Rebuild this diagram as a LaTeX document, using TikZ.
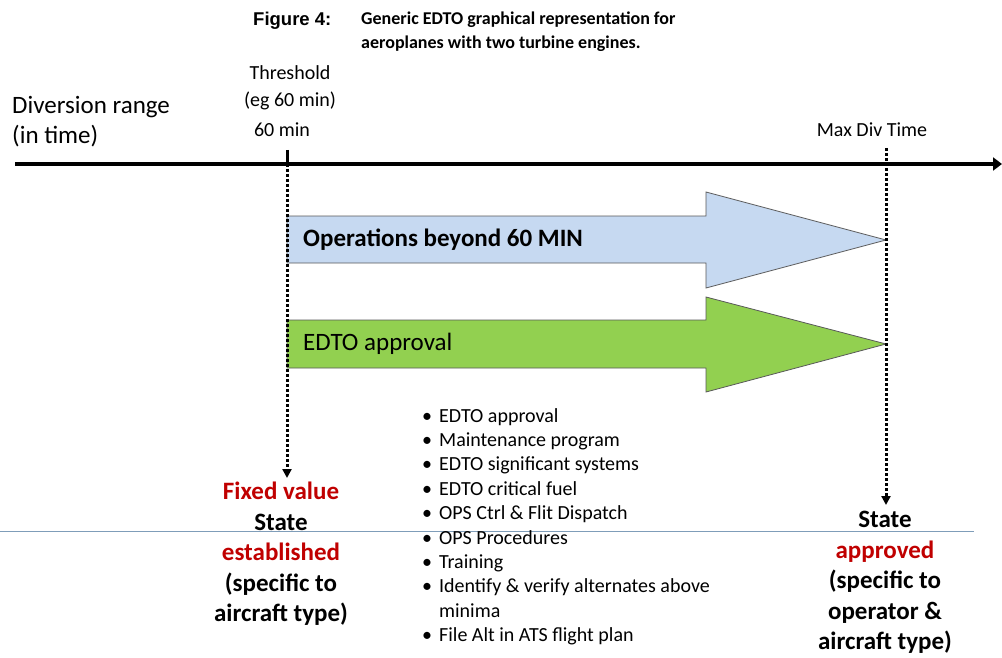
\documentclass[tikz,border=0pt]{standalone}
\usepackage{fontspec}
\setmainfont{Carlito}
\newfontfamily\figfont{Liberation Sans}
\usetikzlibrary{positioning,arrows.meta}

\definecolor{opsblue}{HTML}{C6D9F1}
\definecolor{edtogreen}{HTML}{92D050}
\definecolor{statered}{HTML}{C00000}
\definecolor{splitgray}{HTML}{7F9DB9}

\begin{document}
\begin{tikzpicture}[x=1pt,y=-1pt,shorten >=1pt,
  timeline/.style={line width=4pt,-{Triangle[length=9pt,width=13pt]}},
  limit line/.style={line width=3pt,dash pattern=on 3pt off 2pt,
    -{Triangle[length=9pt,width=9pt]}},
  band/.style={draw=black!65,line width=0.8pt},
  tick label/.style={font=\fontsize{20}{27}\selectfont,inner sep=0pt},
  band text/.style={font=\fontsize{25}{30}\selectfont,anchor=west,inner sep=0pt},
  state text/.style={font=\fontsize{25}{30.5}\selectfont\bfseries,align=center,
    inner sep=0pt,anchor=north},
  item list/.style={font=\fontsize{20}{24.4}\selectfont,align=left,inner sep=0pt,
    anchor=north west}]

  \useasboundingbox (0,0) rectangle (1002,658);

  % caption
  \node[font=\figfont\bfseries\fontsize{18.5}{24}\selectfont,anchor=base west,inner sep=0pt]
    (fig) at (253,26) {Figure 4:};
  \node[font=\bfseries\fontsize{18}{24}\selectfont,align=left,anchor=base west,inner sep=0pt]
    (cap) at (361,49) {Generic EDTO graphical representation for\\
      aeroplanes with two turbine engines.};

  % time axis
  \node[font=\fontsize{25}{30.5}\selectfont,align=left,anchor=north west,inner sep=0pt]
    (range) at (12,96) {Diversion range\\(in time)};
  \coordinate (axisL) at (15,164);
  \coordinate (axisR) at (1002,164);
  \draw[timeline,shorten >=0pt] (axisL) -- (axisR);

  \coordinate (t60) at (287,164);
  \coordinate (t60top) at (287,150);
  \coordinate (tmax) at (886,164);
  \coordinate (tmaxtop) at (886,148);

  \node[tick label,anchor=base] (min60) at (282,137) {60 min};
  \node[tick label,align=center,anchor=base] (thresh) at (290,107)
    {Threshold\\(eg 60 min)};
  \node[tick label,anchor=base] (maxdiv) at (872,137) {Max Div Time};

  % bands
  \draw[band,fill=opsblue] (287,216) -- (706,216) -- (706,192) -- (886,240)
    -- (706,288) -- (706,263) -- (287,263) -- cycle;
  \node[band text] (ops) at (303,240) {\bfseries Operations beyond 60 MIN};

  \draw[band,fill=edtogreen] (287,320) -- (706,320) -- (706,297) -- (886,344)
    -- (706,392) -- (706,368) -- (287,368) -- cycle;
  \node[band text] (edto) at (303,344) {EDTO approval};

  % split line
  \coordinate (splitL) at (0,531);
  \coordinate (splitR) at (974,531);
  \draw[splitgray,line width=1pt,shorten >=0pt] (splitL) -- (splitR);

  % who decides
  \node[state text] (fixed) at (281,482)
    {\textcolor{statered}{Fixed value}\\State\\\textcolor{statered}{established}\\
      (specific to\\aircraft type)};
  \node[state text] (approved) at (885,511)
    {State\\\textcolor{statered}{approved}\\(specific to\\operator \&\\aircraft type)};

  \draw[line width=3pt,shorten >=0pt] (t60top) -- (t60);
  \draw[limit line,shorten >=4pt] (t60) -- (t60 |- fixed.north);
  \draw[limit line,shorten >=6pt] (tmaxtop) -- (tmax |- approved.north);

  % requirements
  \node[item list] (reqs) at (422,408)
    {\textbullet\hspace{7pt}EDTO approval\\
     \textbullet\hspace{7pt}Maintenance program\\
     \textbullet\hspace{7pt}EDTO significant systems\\
     \textbullet\hspace{7pt}EDTO critical fuel\\
     \textbullet\hspace{7pt}OPS Ctrl \& Flit Dispatch\\
     \textbullet\hspace{7pt}OPS Procedures\\
     \textbullet\hspace{7pt}Training\\
     \textbullet\hspace{7pt}Identify \& verify alternates above\\
     \hphantom{\textbullet}\hspace{7pt}minima\\
     \textbullet\hspace{7pt}File Alt in ATS flight plan};
\end{tikzpicture}
\end{document}
